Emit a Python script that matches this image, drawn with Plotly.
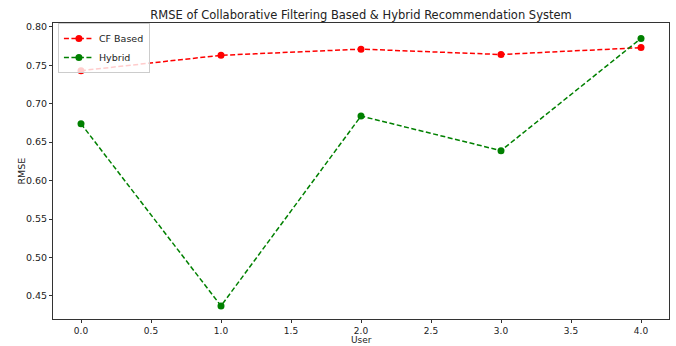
import plotly.graph_objects as go

users = [0, 1, 2, 3, 4]
cf_based = [0.743, 0.763, 0.771, 0.764, 0.773]
hybrid = [0.674, 0.437, 0.684, 0.639, 0.785]
y_ticks = [0.45, 0.50, 0.55, 0.60, 0.65, 0.70, 0.75, 0.80]
x_ticks = [0.0, 0.5, 1.0, 1.5, 2.0, 2.5, 3.0, 3.5, 4.0]

fig = go.Figure()
fig.add_trace(go.Scatter(x=users, y=cf_based, mode="lines+markers", name="CF Based",
                         line=dict(color="red", dash="5px,2.5px", width=1.5),
                         marker=dict(color="red", size=7)))
fig.add_trace(go.Scatter(x=users, y=hybrid, mode="lines+markers", name="Hybrid",
                         line=dict(color="green", dash="5px,2.5px", width=1.5),
                         marker=dict(color="green", size=7)))

axis_common = dict(showline=True, mirror=True, linecolor="#333", linewidth=1,
                   showgrid=False, zeroline=False, ticks="outside", ticklen=3,
                   tickcolor="#333", tickfont=dict(size=9.5, color="#222"),
                   automargin=False)
fig.update_layout(
    width=676, height=346,
    margin=dict(l=53, r=7, t=23, b=27, autoexpand=False),
    paper_bgcolor="white", plot_bgcolor="white",
    font=dict(family="DejaVu Sans", size=10, color="#222"),
    title=dict(text="RMSE of Collaborative Filtering Based & Hybrid Recommendation System",
               x=0.5, xanchor="center", xref="paper", y=1, yref="paper", yanchor="bottom",
               pad=dict(b=4), automargin=False, font=dict(size=11.5)),
    xaxis=dict(range=[-0.2, 4.2], tickvals=x_ticks,
               ticktext=[f"{v:.1f}" for v in x_ticks], **axis_common),
    yaxis=dict(range=[0.42, 0.805], tickvals=y_ticks,
               ticktext=[f"{v:.2f}" for v in y_ticks], **axis_common),
    legend=dict(x=0.008, y=1.0, xanchor="left", yanchor="top",
                bgcolor="rgba(255,255,255,0.8)", bordercolor="#ccc", borderwidth=1,
                font=dict(size=9.5), tracegroupgap=0, itemwidth=30),
    annotations=[
        dict(text="User", x=0.5, xref="paper", y=0, yref="paper", yshift=-27,
             yanchor="bottom", showarrow=False, font=dict(size=9), borderpad=0),
        dict(text="RMSE", x=0, xref="paper", xshift=-40, y=0.5, yref="paper",
             textangle=-90, showarrow=False, font=dict(size=9.5)),
    ],
    showlegend=True,
)
fig.update_xaxes(tickfont=dict(size=9), ticklabelstandoff=0)
fig.write_html("out.html", config={"displayModeBar": False},
               post_script="document.body.style.margin='0';")
